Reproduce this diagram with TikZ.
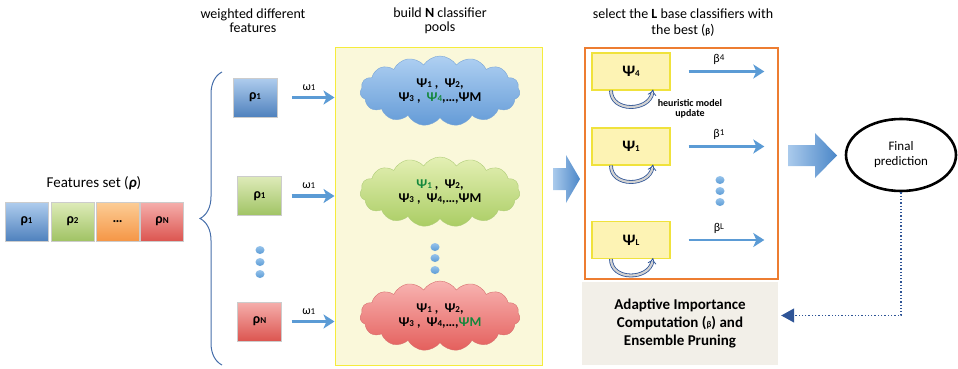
\documentclass[tikz,border=0pt]{standalone}
\usepackage{fontspec}
\setmainfont{Carlito}
\usepackage{xcolor}
\usepackage{tikz}
\usetikzlibrary{arrows.meta,shapes.geometric,shapes.symbols,decorations.pathreplacing}

\definecolor{arrblue}{RGB}{91,155,213}
\definecolor{darkblue}{RGB}{47,85,151}
\definecolor{bracecol}{RGB}{70,110,170}
\definecolor{grn}{RGB}{20,135,60}
\definecolor{orng}{RGB}{237,125,49}
\definecolor{poolfill}{RGB}{250,248,218}
\definecolor{poolline}{RGB}{245,236,60}
\definecolor{psifill}{RGB}{253,243,180}
\definecolor{psiline}{RGB}{240,226,60}
\definecolor{adaptfill}{RGB}{242,239,232}

\newcommand{\lo}[1]{{\fontsize{9}{9}\selectfont #1}}
\newcommand{\fsz}[1]{\fontsize{#1}{#1}\selectfont}

\begin{document}
\begin{tikzpicture}[x=1pt,y=-1pt,
	feat/.style={minimum width=43, minimum height=39, inner sep=0, font=\bfseries\fsz{14}, draw=white!60!gray, line width=0.3pt},
	fblue/.style={feat, top color={rgb,255:red,175;green,205;blue,238}, bottom color={rgb,255:red,79;green,129;blue,189}},
	fgreen/.style={feat, top color={rgb,255:red,222;green,235;blue,185}, bottom color={rgb,255:red,160;green,195;blue,100}},
	forange/.style={feat, top color={rgb,255:red,252;green,205;blue,150}, bottom color={rgb,255:red,245;green,150;blue,70}},
	fred/.style={feat, top color={rgb,255:red,245;green,175;blue,172}, bottom color={rgb,255:red,220;green,85;blue,80}},
	pool/.style={cloud, cloud puffs=15, cloud puff arc=115, aspect=2.2, minimum width=160, minimum height=70, inner sep=0, align=center, font=\bfseries\fsz{13.5}},
	psibox/.style={draw=psiline, fill=psifill, line width=1.1pt, minimum width=78, minimum height=37, inner sep=0, font=\bfseries\fsz{16}},
	heading/.style={align=center, font=\fsz{14}},
	warr/.style={arrblue, line width=3.2pt, -{Stealth[length=11pt, width=14pt, inset=3pt]}},
	blockarr/.style={left color={rgb,255:red,170;green,202;blue,236}, right color={rgb,255:red,75;green,135;blue,200}},
	loopback/.style={draw=darkblue, double=gray!35, double distance=2.2pt, line width=0.8pt, -{Implies}},
	dot/.style={ellipse, minimum width=9, minimum height=8, inner sep=0, top color={rgb,255:red,150;green,195;blue,235}, bottom color=arrblue}]
	\useasboundingbox (0,0) rectangle (958,369);
	% headings
	\node[heading] (hfeat) at (253,21) {weighted different\\features};
	\node[heading] (hpool) at (440,21) {build \textbf{N} classifier\\pools};
	\node[heading, align=center] (hsel) at (683,23) {select the \textbf{L} base classifiers with\\[2pt]the best (\textbf{\lo{β}})};
	\node[heading, font=\fsz{15}] (hset) at (94,183) {Features set (\textbf{\textit{ρ}})};
	%
	% features set
	\node[fblue] (s1) at (26.5,221.5) {ρ\lo{1}};
	\node[fgreen] (s2) at (72.5,221.5) {ρ\lo{2}};
	\node[forange] (s3) at (117.5,221.5) {…};
	\node[fred] (s4) at (162,221.5) {ρ\lo{N}};
	\draw[bracecol, line width=1pt, decorate, decoration={brace, amplitude=22pt, aspect=0.5}] (222,365) -- (222,72);
	%
	% weighted features
	\node[fblue, minimum width=44] (w1) at (255,97.5) {ρ\lo{1}};
	\node[fgreen, minimum width=44] (w2) at (259.5,196) {ρ\lo{1}};
	\node[fred, minimum width=44] (w3) at (259.5,321.5) {ρ\lo{N}};
	\foreach \yy in {250,262,274} \node[dot] at (260,\yy) {};
	%
	% pools
	\node[draw=poolline, fill=poolfill, line width=1pt, minimum width=207, minimum height=317, inner sep=0] (poolbox) at (438.5,206.5) {};
	\node[pool, draw={rgb,255:red,120;green,165;blue,215}, top color={rgb,255:red,175;green,208;blue,242}, bottom color={rgb,255:red,100;green,155;blue,215}] (c1) at (440,91)
		{Ψ\lo{1} ,\ \ Ψ\lo{2},\\Ψ\lo{3} ,\ \ {\color{grn}Ψ\lo{4}},…,ΨM};
	\node[pool, draw={rgb,255:red,175;green,205;blue,120}, top color={rgb,255:red,228;green,240;blue,180}, bottom color={rgb,255:red,170;green,205;blue,100}] (c2) at (440,192)
		{{\color{grn}Ψ\lo{1}} ,\ \ Ψ\lo{2},\\Ψ\lo{3} ,\ \ Ψ\lo{4},…,ΨM};
	\node[pool, draw={rgb,255:red,215;green,110;blue,110}, top color={rgb,255:red,248;green,180;blue,178}, bottom color={rgb,255:red,228;green,95;blue,92}] (c3) at (440,316)
		{Ψ\lo{1} ,\ \ Ψ\lo{2},\\Ψ\lo{3} ,\ \ Ψ\lo{4},…,{\color{grn}ΨM}};
	\foreach \yy in {247,258,270} \node[dot] at (435,\yy) {};
	%
	% weights
	\draw[warr] ([xshift=15]w1.east) -- (w1 -| poolbox.west) node[pos=0.4, above=2pt, black, font=\fsz{12}] {ω\lo{1}};
	\draw[warr] ([xshift=10]w2.east) -- (w2 -| poolbox.west) node[pos=0.4, above=2pt, black, font=\fsz{12}] {ω\lo{1}};
	\draw[warr] ([xshift=10]w3.east) -- (w3 -| poolbox.west) node[pos=0.4, above=2pt, black, font=\fsz{12}] {ω\lo{1}};
	%
	% selection
	\shade[blockarr] (553,168) -- (566,168) -- (566,155) -- (580,179) -- (566,203) -- (566,190) -- (553,190) -- cycle;
	\node[draw=orng, line width=2.6pt, minimum width=193, minimum height=231, inner sep=0] (sel) at (681.5,163.5) {};
	\node[psibox] (p1) at (631,71.5) {Ψ\lo{4}};
	\node[psibox] (p2) at (631,146.5) {Ψ\lo{1}};
	\node[psibox] (p3) at (631,240) {Ψ\lo{L}};
	\node[align=center, font=\bfseries\fsz{10}] (heur) at (690,109) {heuristic model\\update};
	\foreach \p in {p1,p2,p3}
		\draw[loopback] ([xshift=-20]\p.south) .. controls +(0,22) and +(-4,22) .. ([xshift=22,yshift=1]\p.south);
	\draw[warr, line width=2.6pt] ([xshift=18]p1.east) -- ([xshift=-15]p1 -| sel.east) node[pos=0.4, above=2pt, black, font=\fsz{12}] {β\raisebox{2pt}{\lo{4}}};
	\draw[warr, line width=2.6pt] ([xshift=18]p2.east) -- ([xshift=-15]p2 -| sel.east) node[pos=0.4, above=2pt, black, font=\fsz{12}] {β\raisebox{2pt}{\lo{1}}};
	\draw[warr, line width=2.6pt] ([xshift=18]p3.east) -- ([xshift=-15]p3 -| sel.east) node[pos=0.4, above=2pt, black, font=\fsz{12}] {β\raisebox{2pt}{\lo{L}}};
	\foreach \yy in {180,191,202} \node[dot] at (720,\yy) {};
	%
	% output
	\shade[blockarr] (788,145) -- (815,145) -- (815,133) -- (837,155.5) -- (815,178) -- (815,166) -- (788,166) -- cycle;
	\node[ellipse, draw=black, line width=2.6pt, minimum width=110, minimum height=72, align=center, font=\fsz{13}] (final) at (901,155) {Final\\[2pt]prediction};
	\node[fill=adaptfill, minimum width=196, minimum height=83, align=center, font=\bfseries\fsz{15}] (adapt) at (680,323.5)
		{Adaptive Importance\\[3pt]Computation (\lo{β}) and\\[3pt]Ensemble Pruning};
	\draw[darkblue, line width=1.3pt, dotted, -{Triangle[length=13pt, width=14pt]}] (final.south) |- ([xshift=3,yshift=8]adapt.east);
\end{tikzpicture}
\end{document}
